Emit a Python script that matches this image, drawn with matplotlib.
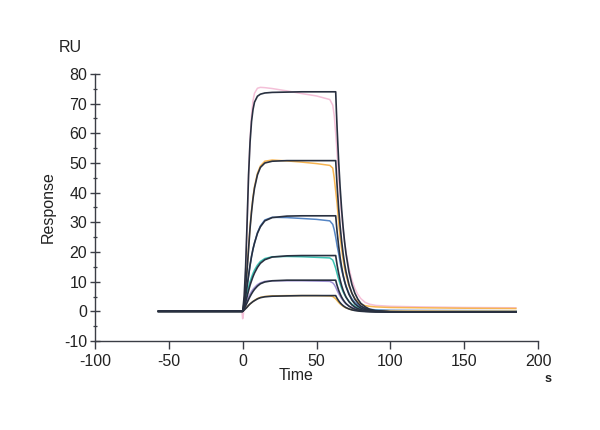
import numpy as np
import matplotlib
matplotlib.use('Agg')
import matplotlib.pyplot as plt
from matplotlib.ticker import MultipleLocator

plt.rcParams['font.family'] = ['Liberation Sans', 'DejaVu Sans']
plt.rcParams['axes.unicode_minus'] = False

# tiempos (s)
base_t = [-57, 0]
fit_assoc_t = [0, 1, 2, 3, 4, 5, 6, 7, 8, 10, 12, 15, 20, 30, 40, 50]
fit_dissoc_t = [63, 63.5, 64, 65, 66, 67, 68, 69, 70, 72, 74, 76, 78, 80, 83, 86, 90, 100, 120, 150, 185]

data_pre_t = [-57, -0.5]
data_assoc_t = [0, 0.5, 1, 2, 3, 4, 5, 6, 7, 8, 10, 12, 15, 20, 30, 40, 50, 59, 61]
data_dissoc_t = [62, 63, 64, 65, 66, 67, 68, 69, 70, 72, 74, 76, 78, 80, 83, 86, 90, 100, 120, 150, 185]

# curvas de ajuste (negras), de mayor a menor concentracion
fit_assoc = [
    [0, 5, 15, 30, 46, 57, 64, 68, 70.5, 72.5, 73.2, 73.6, 73.8, 73.9, 74.0, 74.0],
    [0, 3, 8, 14, 21, 28, 33.5, 38, 41.5, 46, 48.5, 50, 50.6, 50.8, 50.8, 50.8],
    [0, 2, 5, 8.5, 12, 15.5, 18.5, 21, 23, 26.3, 28.5, 30.5, 31.6, 32.1, 32.2, 32.2],
    [0, 1.2, 3, 5, 7, 8.8, 10.3, 11.7, 12.9, 14.8, 16.2, 17.4, 18.3, 18.7, 18.8, 18.8],
    [0, 0.8, 1.8, 2.9, 4, 5, 5.9, 6.7, 7.4, 8.5, 9.3, 9.9, 10.3, 10.5, 10.5, 10.5],
    [0, 0.4, 0.9, 1.4, 2, 2.5, 2.9, 3.3, 3.6, 4.2, 4.6, 4.9, 5.1, 5.2, 5.3, 5.3],
]
fit_dissoc = [
    [74.0, 67.2, 61.2, 50.6, 41.8, 34.5, 28.5, 23.5, 19.4, 13.2, 9.0, 6.1, 4.1, 2.7, 1.5, 0.7, 0.24, -0.13, -0.2, -0.2, -0.2],
    [50.8, 46.2, 42.0, 34.7, 28.7, 23.7, 19.5, 16.1, 13.3, 9.0, 6.1, 4.1, 2.8, 1.8, 0.94, 0.44, 0.1, -0.15, -0.2, -0.2, -0.2],
    [32.2, 29.3, 26.6, 22.0, 18.1, 15.0, 12.3, 10.2, 8.35, 5.7, 3.8, 2.5, 1.7, 1.1, 0.53, 0.2, 0.0, -0.17, -0.2, -0.2, -0.2],
    [18.8, 17.1, 15.5, 12.8, 10.55, 8.7, 7.15, 5.9, 4.8, 3.24, 2.16, 1.4, 0.9, 0.55, 0.23, 0.04, -0.09, -0.18, -0.2, -0.2, -0.2],
    [10.5, 9.5, 8.65, 7.1, 5.86, 4.8, 3.94, 3.22, 2.62, 1.74, 1.13, 0.7, 0.42, 0.22, 0.04, -0.07, -0.14, -0.19, -0.2, -0.2, -0.2],
    [5.3, 4.8, 4.35, 3.56, 2.91, 2.37, 1.93, 1.56, 1.25, 0.8, 0.48, 0.27, 0.12, 0.02, -0.08, -0.13, -0.17, -0.2, -0.2, -0.2, -0.2],
]

# curvas medidas (colores)
data_colors = ['#f4c0d8', '#f7b552', '#5585c4', '#3cc4b4', '#a193d4', '#f3b848']
data_assoc = [
    [-2.5, -1, 3, 13, 29, 46, 58, 66, 71, 73.5, 75.2, 75.5, 75.4, 75.1, 74.3, 73.4, 72.6, 71.4, 69.5],
    [0, 1, 3, 8, 14.5, 21.5, 28.5, 34, 38.5, 42, 46.5, 49, 50.6, 51.0, 50.7, 50.3, 49.8, 49.2, 48.3],
    [0, 0.5, 2, 5, 8.5, 12, 15.5, 18.5, 21, 23, 26.5, 28.8, 30.8, 31.7, 31.6, 31.3, 31.0, 30.5, 29.3],
    [0, 0.5, 1.8, 4, 6.3, 8.3, 10, 11.5, 12.8, 13.9, 15.6, 16.8, 17.8, 18.4, 18.5, 18.4, 18.2, 18.0, 17.3],
    [0, 0.4, 1.2, 2.4, 3.6, 4.8, 5.8, 6.7, 7.4, 8.0, 9.0, 9.6, 10.1, 10.3, 10.3, 10.3, 10.2, 10.1, 9.6],
    [0, 0.2, 0.5, 1.0, 1.5, 2.0, 2.5, 2.9, 3.3, 3.7, 4.3, 4.7, 5.0, 5.2, 5.3, 5.3, 5.3, 5.2, 5.0],
]
data_dissoc = [
    [66, 60, 53, 45, 38.5, 32.5, 27.5, 23.5, 20, 14.5, 10.5, 7.7, 5.7, 4.3, 3.0, 2.4, 2.0, 1.7, 1.5, 1.3, 1.2],
    [45, 40.5, 36, 30, 25, 21, 17.5, 14.5, 12.2, 8.5, 6, 4.3, 3.2, 2.5, 1.9, 1.7, 1.5, 1.3, 1.2, 1.05, 0.95],
    [27.5, 25, 22, 19.5, 16.5, 14, 12, 10, 8.5, 6, 4.2, 3, 2.1, 1.5, 1.0, 0.7, 0.5, 0.35, 0.3, 0.25, 0.2],
    [16, 14.5, 12.6, 10.8, 9.2, 7.8, 6.6, 5.6, 4.7, 3.4, 2.4, 1.7, 1.2, 0.85, 0.5, 0.35, 0.25, 0.2, 0.15, 0.1, 0.1],
    [9.0, 8.1, 7.0, 6.0, 5.1, 4.3, 3.6, 3.0, 2.5, 1.8, 1.3, 0.9, 0.6, 0.45, 0.3, 0.2, 0.15, 0.1, 0.1, 0.05, 0.05],
    [4.6, 4.2, 3.6, 3.0, 2.5, 2.1, 1.7, 1.4, 1.15, 0.8, 0.55, 0.4, 0.3, 0.2, 0.15, 0.1, 0.1, 0.05, 0.05, 0.0, 0.0],
]

x_ticks = [-100, -50, 0, 50, 100, 150, 200]
y_ticks = [-10, 0, 10, 20, 30, 40, 50, 60, 70, 80]

fig = plt.figure(figsize=(6, 4.3), dpi=100)
ax = fig.add_axes([95 / 600, 1 - 341 / 430, 443 / 600, 267 / 430])

axis_col = '#3a3d45'
text_col = '#222222'

for i in range(len(data_assoc)):
    t = data_pre_t + data_assoc_t + data_dissoc_t
    y = [0, 0] + data_assoc[i] + data_dissoc[i]
    ax.plot(t, y, color=data_colors[i], lw=1.1, zorder=2)

for i in range(len(fit_assoc)):
    t = base_t + fit_assoc_t + fit_dissoc_t
    y = [0, 0] + fit_assoc[i] + fit_dissoc[i]
    ax.plot(t, y, color='#283040', lw=1.2, zorder=3)

ax.set_xlim(-100, 200)
ax.set_ylim(-10, 80)
ax.set_xticks(x_ticks)
ax.set_yticks(y_ticks)
ax.yaxis.set_minor_locator(MultipleLocator(5))

for s in ['top', 'right']:
    ax.spines[s].set_visible(False)
for s in ['left', 'bottom']:
    ax.spines[s].set_color(axis_col)
    ax.spines[s].set_linewidth(1.0)

ax.tick_params(axis='x', direction='out', length=6, width=1.0, color=axis_col,
               labelsize=11.5, labelcolor=text_col, pad=3)
ax.tick_params(axis='y', which='major', direction='inout', length=7, width=1.0,
               color=axis_col, labelsize=11.5, labelcolor=text_col, pad=2)
ax.tick_params(axis='y', which='minor', direction='inout', length=3.5, width=0.9,
               color=axis_col)

ax.set_ylabel('Response', fontsize=11.5, color=text_col, labelpad=6)
fig.text(296 / 600, 1 - 376 / 430, 'Time', fontsize=11.5, color=text_col,
         ha='center', va='center')
fig.text(548 / 600, 1 - 379 / 430, 's', fontsize=9, fontweight='bold',
         color=text_col, ha='center', va='center')
fig.text(70 / 600, 1 - 48 / 430, 'RU', fontsize=11.5, color=text_col,
         ha='center', va='center')

fig.savefig('out.png', dpi=100, facecolor='white')
